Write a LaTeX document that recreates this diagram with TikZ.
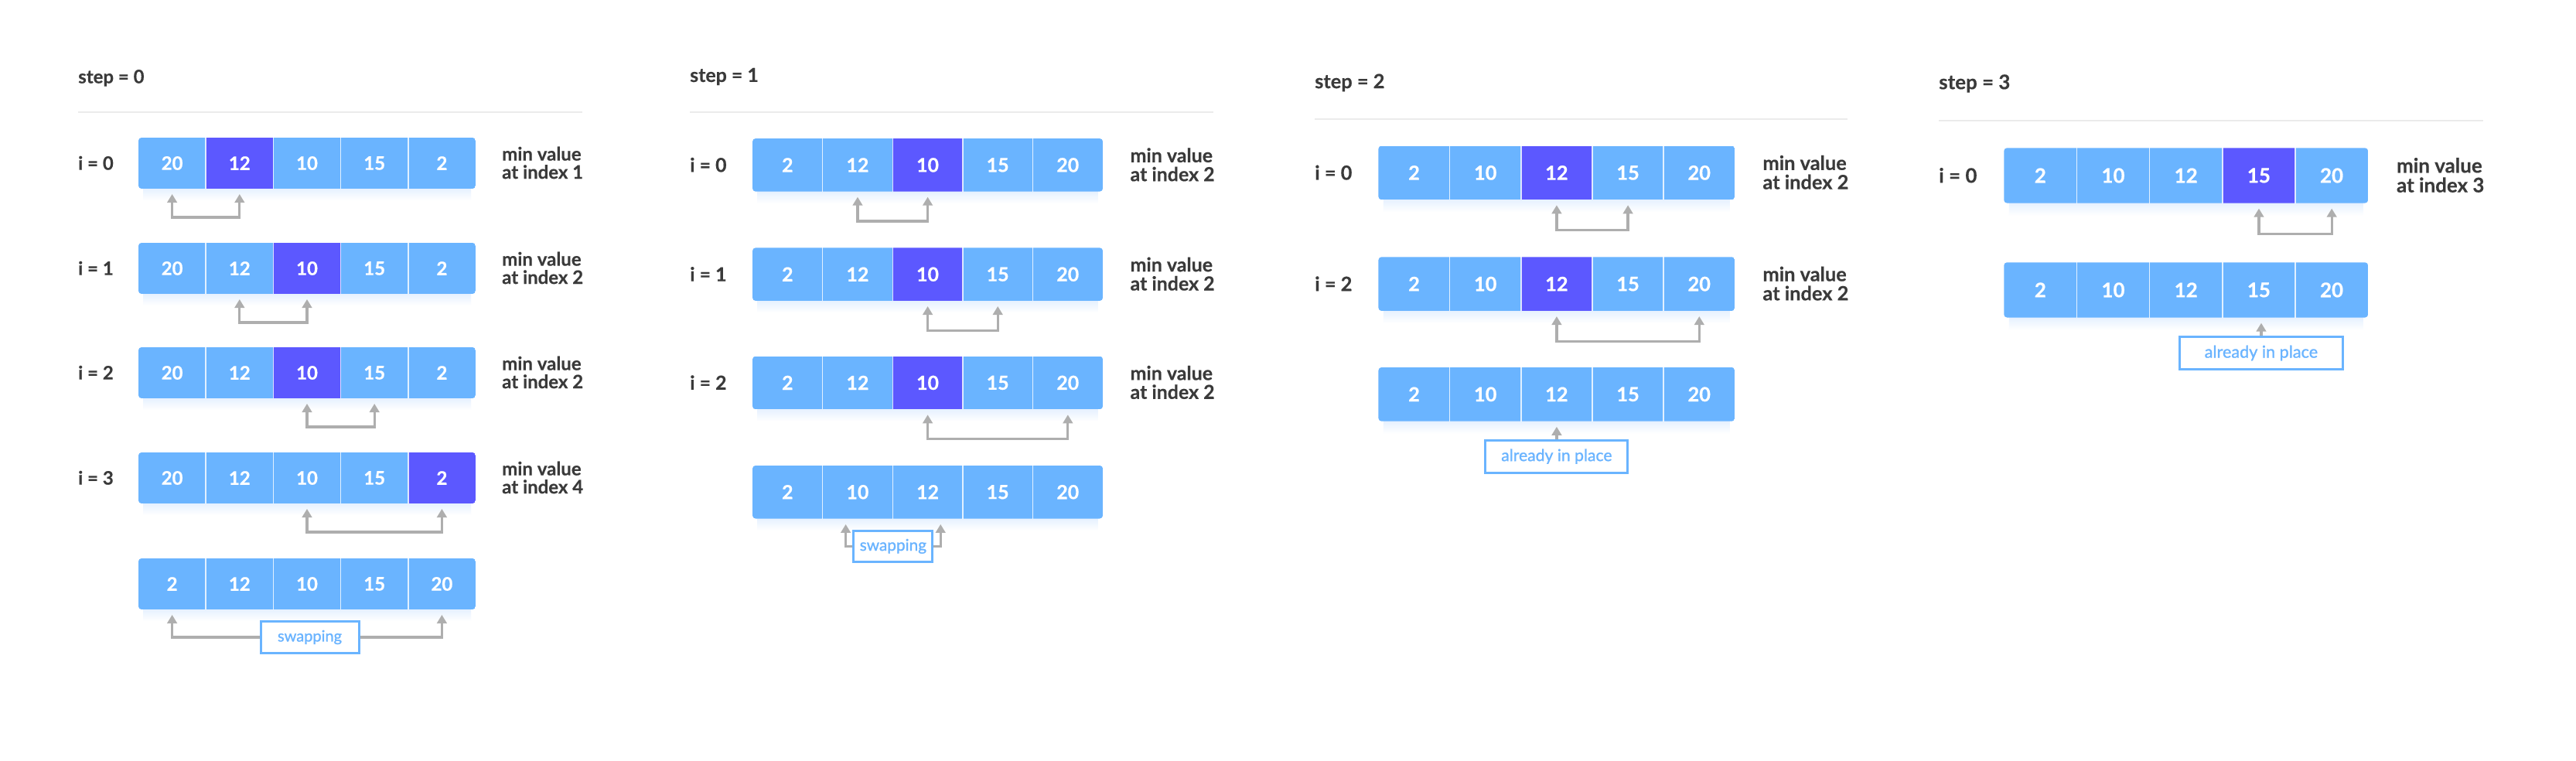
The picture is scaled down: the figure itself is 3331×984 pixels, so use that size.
\documentclass[tikz,border=0pt]{standalone}
\usepackage{fontspec}
\setmainfont{Lato}
\newfontfamily\tagfont[FakeBold=1.2]{Lato}
\newfontfamily\numfont[BoldFeatures={FakeBold=0.6}]{Lato}
\newfontfamily\labfont[BoldFeatures={FakeBold=0.35}]{Lato}
\usetikzlibrary{arrows.meta}
\definecolor{cellblue}{HTML}{6AB4FF}
\definecolor{cellhi}{HTML}{5C58FF}
\definecolor{labtext}{HTML}{3A3A3A}
\definecolor{arrowgray}{HTML}{AEAEAE}
\definecolor{sepgray}{HTML}{EBEBEB}
\definecolor{shadowc}{HTML}{E6F1FF}
\tikzset{
  cellnode/.style={rectangle, minimum width=87.2pt, minimum height=66pt, inner sep=0pt, outer sep=0pt,
    text=white, font=\numfont\bfseries\fontsize{24}{24}\selectfont},
  cellsep/.style={draw=white, line width=1.5pt, opacity=0.8},
  steplab/.style={anchor=base west, inner sep=0pt, text=labtext, font=\labfont\bfseries\fontsize{24}{24}\selectfont},
  rowlab/.style={anchor=base west, inner sep=0pt, text=labtext, font=\labfont\bfseries\fontsize{24}{24}\selectfont},
  minlab/.style={anchor=west, inner sep=0pt, align=left, text=labtext, font=\labfont\bfseries\fontsize{24}{23.5}\selectfont},
  sepline/.style={draw=sepgray, line width=2pt},
  tagbox/.style={rectangle, draw=cellblue, line width=3pt, fill=white, text=cellblue, inner sep=0pt,
    font=\tagfont\fontsize{20}{20}\selectfont},
  pairarrow/.style={draw=arrowgray, line width=3.3pt, >={Triangle[width=12.5pt,length=11pt]}, <->,
    shorten <=7pt, shorten >=7pt},
  onearrow/.style={draw=arrowgray, line width=3.3pt, >={Triangle[width=12.5pt,length=11pt]}, ->},
}
% #1 prefix, #2 top, #3 values, #4 highlighted index (-1 none)
\newcommand{\cellrow}[4]{%
  \shade[top color=shadowc, bottom color=white] (84,{#2+66}) rectangle (508,{#2+81});
  \begin{scope}
    \clip[rounded corners=4pt] (78,#2) rectangle (514,{#2+66});
    \foreach \v [count=\j from 0] in {#3} {%
      \ifnum\j=#4\relax\def\cc{cellhi}\else\def\cc{cellblue}\fi
      \node[cellnode, fill=\cc] (#1c\j) at ({121.6+87.2*\j},{#2+33}) {\v};
    }
  \end{scope}
  \foreach \k in {1,2,3,4} \draw[cellsep] ({78+87.2*\k},#2) -- ({78+87.2*\k},{#2+66});
}
% #1 prefix, #2 top, #3 values, #4 hi, #5 i, #6 min index, #7 #8 arrow cells
\newcommand{\fullrow}[8]{%
  \cellrow{#1}{#2}{#3}{#4}
  \node[rowlab] (#1i) at (0,{#2+41.6}) {i = #5};
  \node[minlab] (#1m) at (548,{#2+32.5}) {min value\\at index #6};
  \draw[pairarrow] (#1c#7.south) -- ++(0,37) -| (#1c#8.south);
}
\begin{document}
\begin{tikzpicture}[x=1pt,y=-1pt]
\useasboundingbox[fill=white] (0,0) rectangle (3331,984);

% ---------- step 0 ----------
\begin{scope}[shift={(101,99)}, scale=1, transform shape]
  \node[steplab] (p0step) at (0,8.6) {step = 0};
  \draw[sepline] (0,46) -- (652,46);
  \fullrow{p0r0}{79}{20,12,10,15,2}{1}{0}{1}{0}{1}
  \fullrow{p0r1}{215}{20,12,10,15,2}{2}{1}{2}{1}{2}
  \fullrow{p0r2}{350}{20,12,10,15,2}{2}{2}{2}{2}{3}
  \fullrow{p0r3}{486}{20,12,10,15,2}{4}{3}{4}{2}{4}
  \cellrow{p0f}{623}{2,12,10,15,20}{-1}
  \node[tagbox, minimum width=127pt, minimum height=41pt] (p0sw) at (299.5,725) {swapping};
  \draw[onearrow, shorten >=7pt] (p0sw.west) -| (p0fc0.south);
  \draw[onearrow, shorten >=7pt] (p0sw.east) -| (p0fc4.south);
\end{scope}

% ---------- step 1 ----------
\begin{scope}[shift={(892,97)}, scale=1.039, transform shape]
  \node[steplab] (p1step) at (0,8.6) {step = 1};
  \draw[sepline] (0,46) -- (652,46);
  \fullrow{p1r0}{79}{2,12,10,15,20}{2}{0}{2}{1}{2}
  \fullrow{p1r1}{215}{2,12,10,15,20}{2}{1}{2}{2}{3}
  \fullrow{p1r2}{350}{2,12,10,15,20}{2}{2}{2}{2}{4}
  \cellrow{p1f}{486}{2,10,12,15,20}{-1}
  \node[tagbox, minimum width=98pt, minimum height=39pt] (p1sw) at (253,586.5) {swapping};
  \draw[onearrow] (p1sw.west) -- ++(-8.5,0) -- ++(0,-27.5);
  \draw[onearrow] (p1sw.east) -- ++(8.5,0) -- ++(0,-27.5);
\end{scope}

% ---------- step 2 ----------
\begin{scope}[shift={(1700,105)}, scale=1.057, transform shape]
  \node[steplab] (p2step) at (0,8.6) {step = 2};
  \draw[sepline] (0,46) -- (652,46);
  \fullrow{p2r0}{79}{2,10,12,15,20}{2}{0}{2}{2}{3}
  \fullrow{p2r1}{215}{2,10,12,15,20}{2}{2}{2}{2}{4}
  \cellrow{p2f}{350}{2,10,12,15,20}{-1}
  \node[tagbox, minimum width=174pt, minimum height=40pt] (p2pl) at (296,459) {already in place};
  \draw[onearrow, shorten >=7pt] (p2pl.north) -- (p2fc2.south);
\end{scope}

% ---------- step 3 ----------
\begin{scope}[shift={(2507,106)}, scale=1.08, transform shape]
  \node[steplab] (p3step) at (0,8.6) {step = 3};
  \draw[sepline] (0,46) -- (652,46);
  \fullrow{p3r0}{79}{2,10,12,15,20}{3}{0}{3}{3}{4}
  \cellrow{p3f}{216}{2,10,12,15,20}{-1}
  \node[tagbox, minimum width=196pt, minimum height=39pt] (p3pl) at (386,324.5) {already in place};
  \draw[onearrow, shorten >=7pt] (p3pl.north) -- (p3pl.north |- p3fc3.south);
\end{scope}
\end{tikzpicture}
\end{document}
